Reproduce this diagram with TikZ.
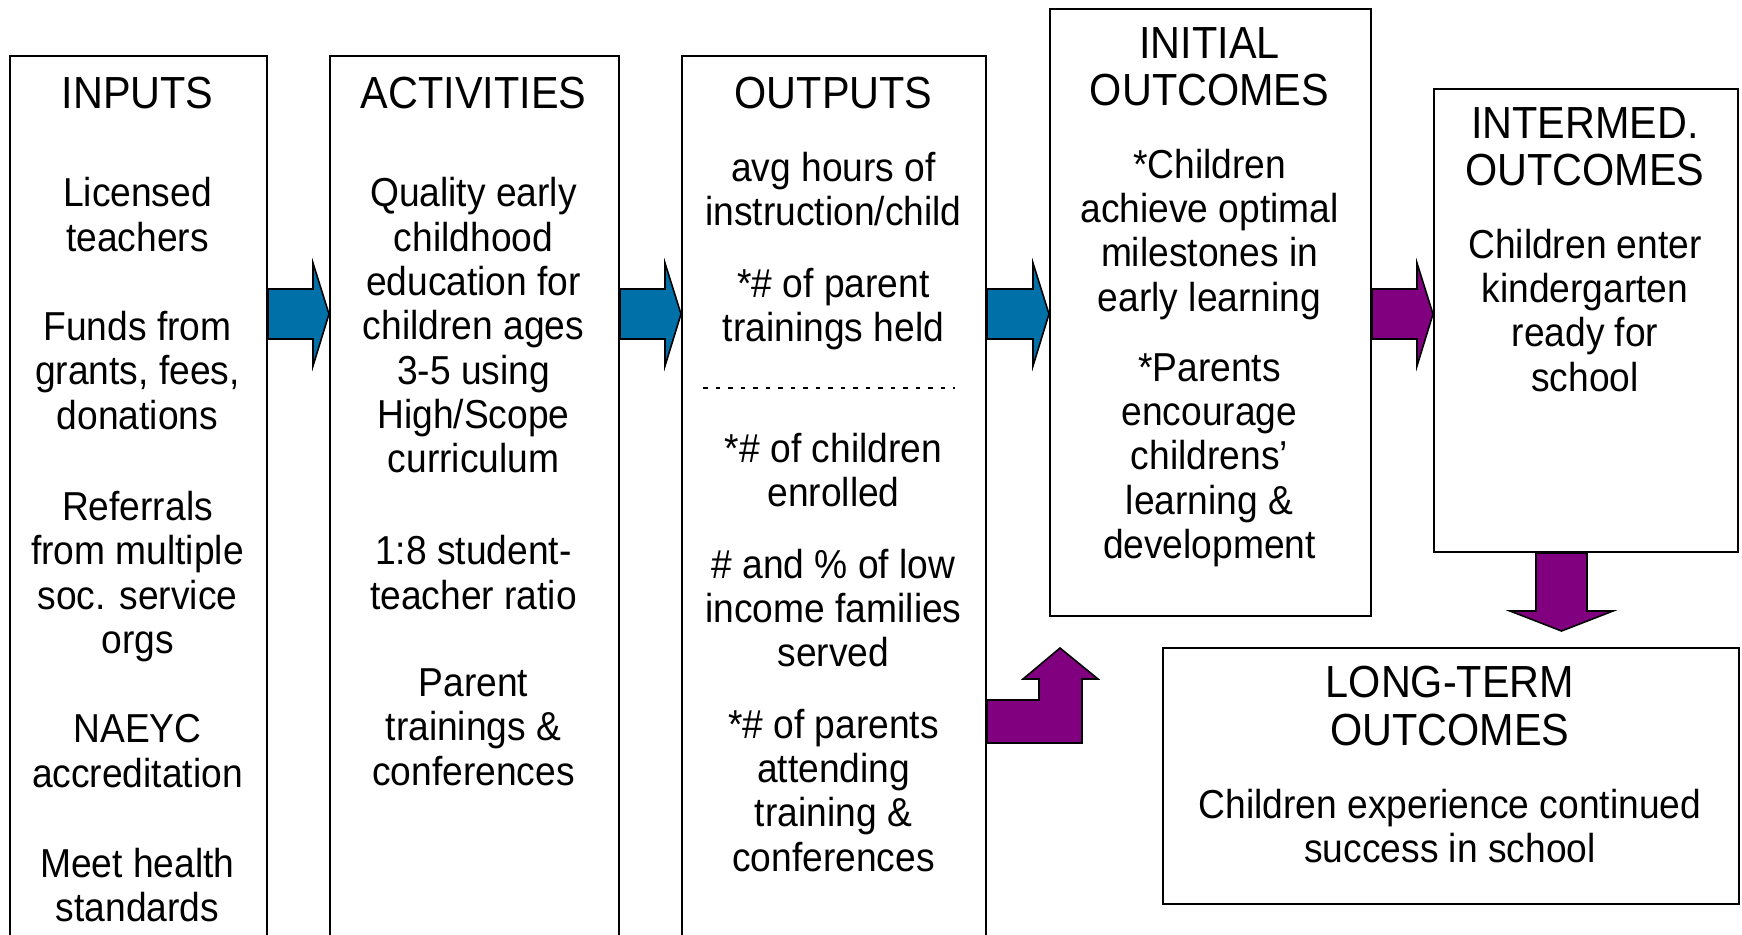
\documentclass[tikz,border=0pt]{standalone}
\usepackage{fontspec}
\setmainfont[FakeStretch=0.92]{Liberation Sans}
\usepackage{tikz}
\usetikzlibrary{calc}
\definecolor{arrowblue}{RGB}{0,112,168}
\definecolor{arrowpurple}{RGB}{128,0,128}

\tikzset{
  box/.style={draw,line width=0.6pt,inner sep=0pt,anchor=north west},
  title/.style={anchor=north,align=center,inner sep=0pt,font=\fontsize{12.8}{13.6}\selectfont},
  body/.style={anchor=north,align=center,inner sep=0pt,font=\fontsize{11.5}{12.6}\selectfont},
  blockarrow/.style={draw=black,line width=0.45pt,line join=miter}
}

% right pointing block arrow from one box to the next
\newcommand{\rarrow}[3]{%
  \draw[blockarrow,fill=#3] (#1.east |- 0,289) -- ($(#2.west |- 0,289)+(-16,0)$)
    -- ($(#2.west |- 0,263)+(-16,0)$) -- (#2.west |- 0,314)
    -- ($(#2.west |- 0,366)+(-16,0)$) -- ($(#2.west |- 0,339)+(-16,0)$)
    -- (#1.east |- 0,339) -- cycle;}

\begin{document}
\begin{tikzpicture}[x=0.1mm,y=-0.1mm]
    \useasboundingbox (0,0) rectangle (1742,934);

    % INPUTS
    \node[box,minimum width=25.7mm,minimum height=89mm] (inputs) at (9,55) {};
    \node[title] (inputsTitle) at (137.5,76.5) {INPUTS};
    \node[body] (inTeachers) at (137.5,177) {Licensed\\teachers};
    \node[body] (inFunds) at (137.5,310.5) {Funds from\\grants, fees,\\donations};
    \node[body] (inReferrals) at (137.5,490.5) {Referrals\\from multiple\\soc. service\\orgs};
    \node[body] (inNaeyc) at (137.5,713.8) {NAEYC\\accreditation};
    \node[body] (inHealth) at (137.5,847) {Meet health\\standards};

    % ACTIVITIES
    \node[box,minimum width=28.9mm,minimum height=89mm] (activities) at (329,55) {};
    \node[title] (activitiesTitle) at (473.5,76.5) {ACTIVITIES};
    \node[body] (acQuality) at (473.5,177) {Quality early\\childhood\\education for\\children ages\\3-5 using\\High/Scope\\curriculum};
    \node[body] (acRatio) at (473.5,535) {1:8 student-\\teacher ratio};
    \node[body] (acParent) at (473.5,668) {Parent\\trainings \&\\conferences};

    % OUTPUTS
    \node[box,minimum width=30.4mm,minimum height=89mm] (outputs) at (681,55) {};
    \node[title] (outputsTitle) at (833.5,76.5) {OUTPUTS};
    \node[body] (outHours) at (833.5,151.7) {avg hours of\\instruction/child};
    \node[body] (outTrainings) at (833.5,267.2) {*\# of parent\\trainings held};
    \draw[line width=0.5pt,dash pattern=on 0.45mm off 0.8mm] (703,388) -- (955,388);
    \node[body] (outEnrolled) at (833.5,432.7) {*\# of children\\enrolled};
    \node[body] (outIncome) at (833.5,548.3) {\# and \% of low\\income families\\served};
    \node[body] (outAttending) at (833.5,708.3) {*\# of parents\\attending\\training \&\\conferences};

    % INITIAL OUTCOMES
    \node[box,minimum width=32.1mm,minimum height=60.7mm] (initial) at (1049,8) {};
    \node[title] (initialTitle) at (1209.5,26.5) {INITIAL\\OUTCOMES};
    \node[body] (iniMilestones) at (1209.5,148.3) {*Children\\achieve optimal\\milestones in\\early learning};
    \node[body] (iniParents) at (1209.5,352.7) {*Parents\\encourage\\childrens’\\learning \&\\development};

    % INTERMED. OUTCOMES
    \node[box,minimum width=30.4mm,minimum height=46.3mm] (intermed) at (1433,88) {};
    \node[title] (intermedTitle) at (1585,106.5) {INTERMED.\\OUTCOMES};
    \node[body] (intKinder) at (1585,228.3) {Children enter\\kindergarten\\ready for\\school};

    % LONG-TERM OUTCOMES
    \node[box,minimum width=57.6mm,minimum height=25.6mm] (longterm) at (1162,647) {};
    \node[title] (longtermTitle) at (1450,665.4) {LONG-TERM\\OUTCOMES};
    \node[body] (ltSuccess) at (1450,788.3) {Children experience continued\\success in school};

    % Arrows
    \rarrow{inputs}{activities}{arrowblue}
    \rarrow{activities}{outputs}{arrowblue}
    \rarrow{outputs}{initial}{arrowblue}
    \rarrow{initial}{intermed}{arrowpurple}
    \draw[blockarrow,fill=arrowpurple] (intermed.south -| 1536,0) -- (1536,611) -- (1510,611)
        -- (1561.5,631) -- (1613,611) -- (1587,611) -- (intermed.south -| 1587,0) -- cycle;
    \draw[blockarrow,fill=arrowpurple] (outputs.east |- 0,700) -- (1039,700) -- (1039,679)
        -- (1023,679) -- (1060,648) -- (1098,679) -- (1082,679) -- (1082,743)
        -- (outputs.east |- 0,743) -- cycle;
\end{tikzpicture}
\end{document}
